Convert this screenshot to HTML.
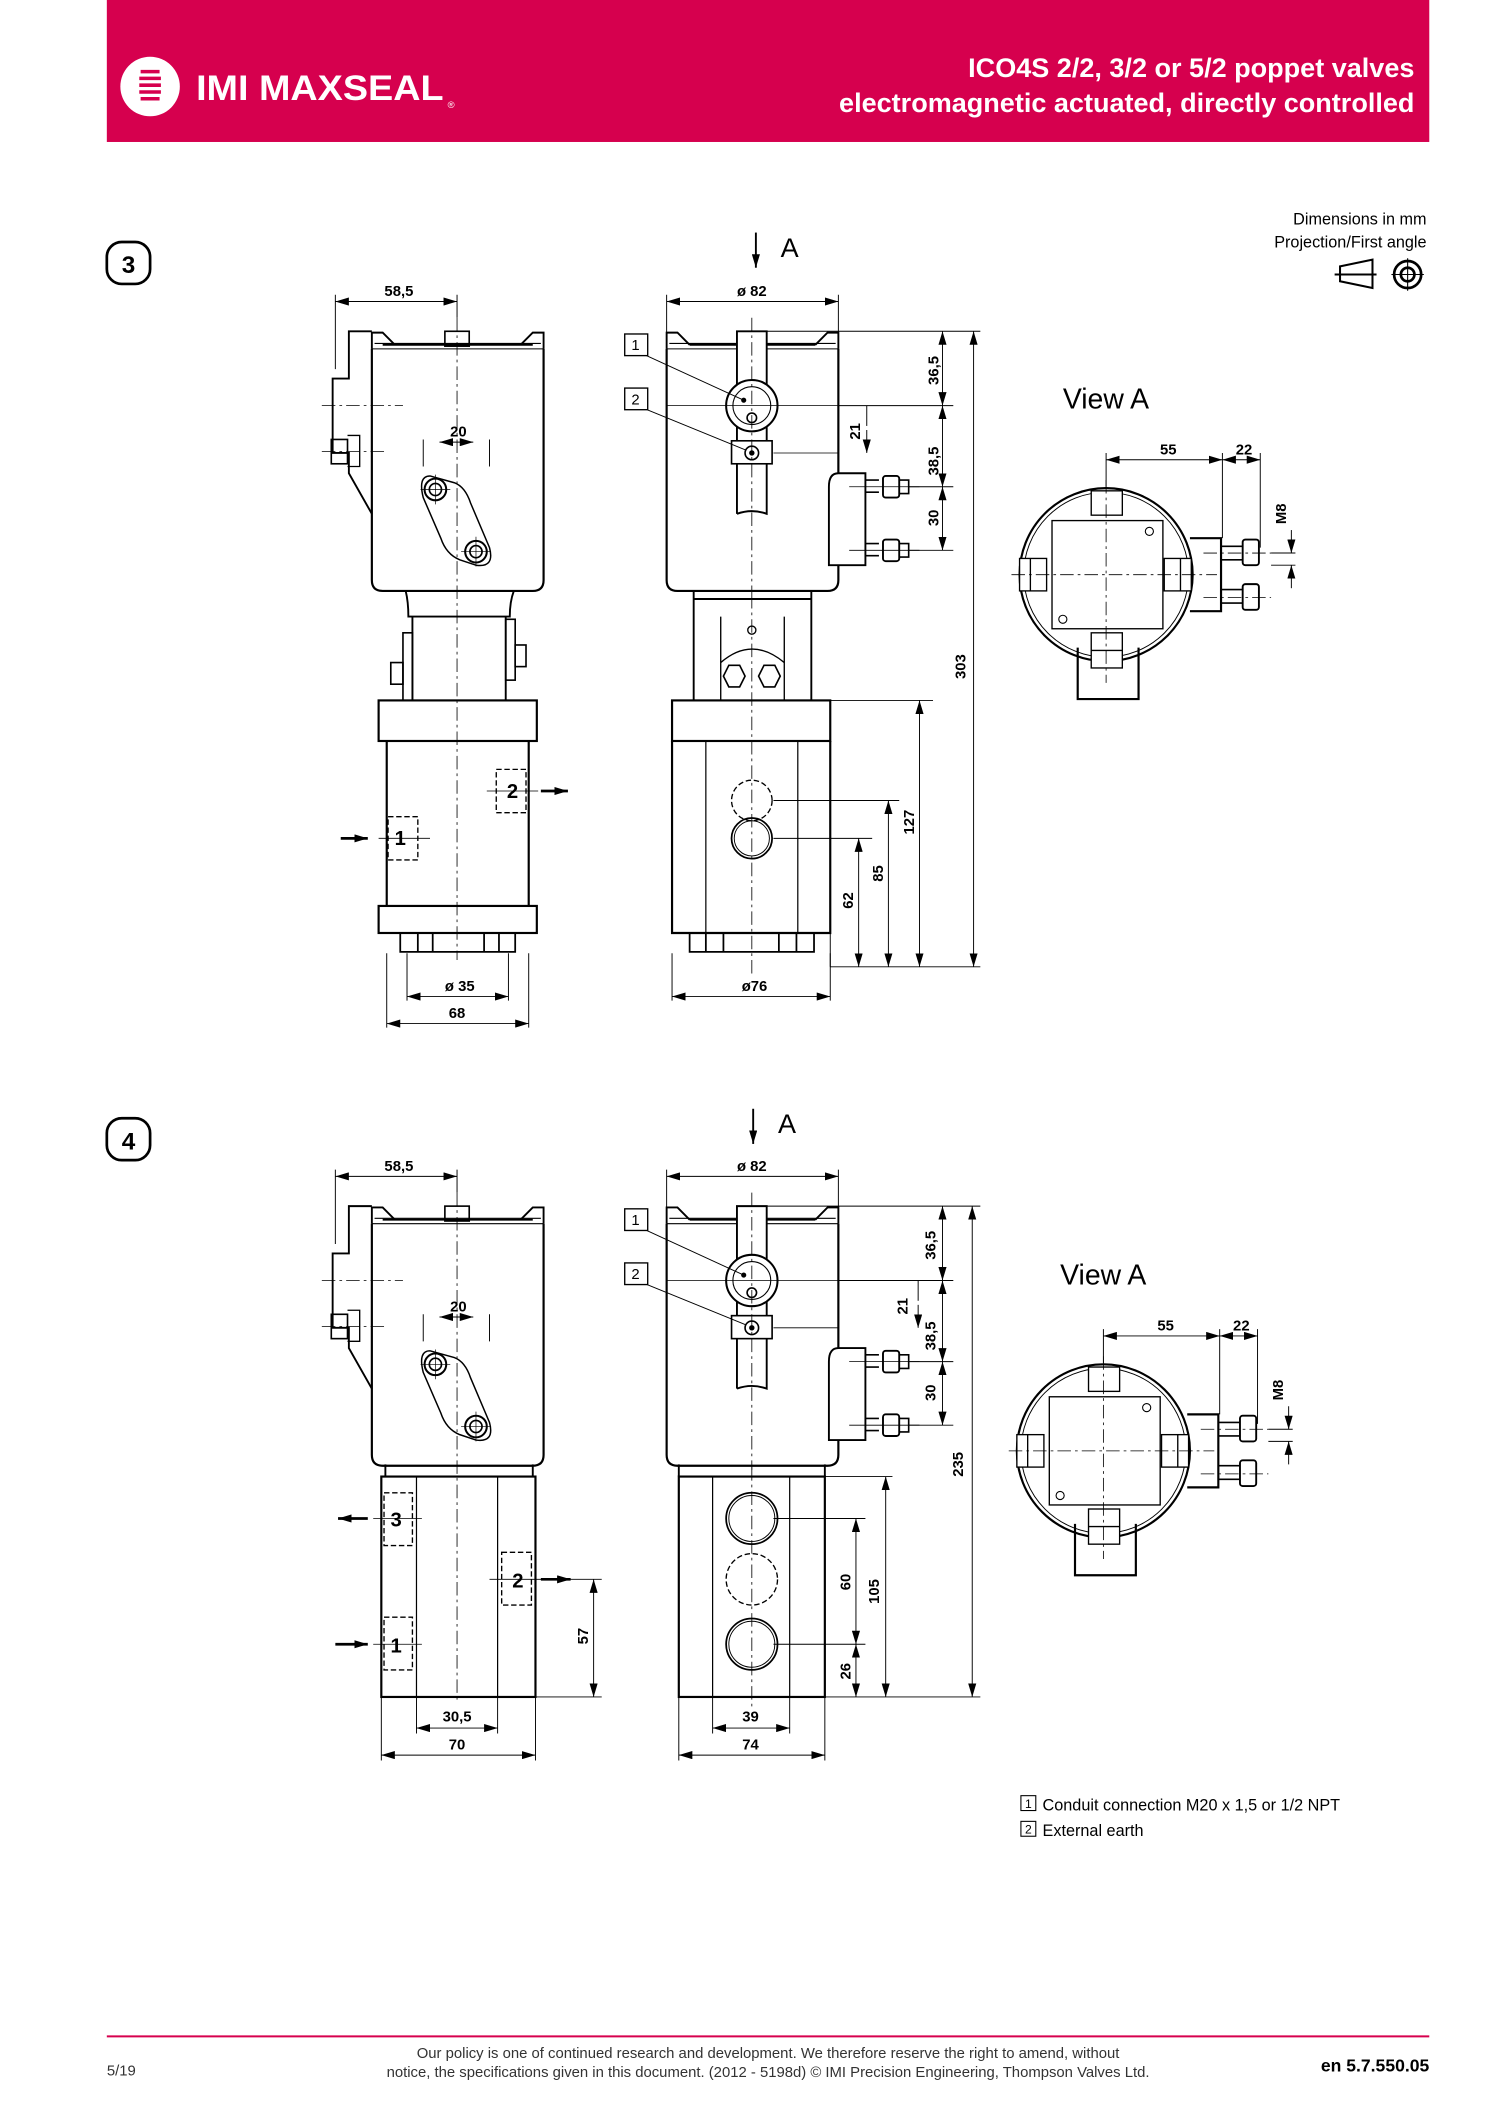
<!DOCTYPE html>
<html><head><meta charset="utf-8"><style>
html,body{margin:0;padding:0;background:#fff}
svg{display:block}
text{font-family:"Liberation Sans",Arial,sans-serif}
.d{font-size:11px;font-weight:bold;fill:#000}
</style></head><body>
<svg width="1500" height="2121" viewBox="0 0 1109.3 1568.6" preserveAspectRatio="none" xmlns="http://www.w3.org/2000/svg">
<defs>
<marker id="a" viewBox="0 0 10 6" refX="10" refY="3" markerWidth="10" markerHeight="6" orient="auto-start-reverse" markerUnits="userSpaceOnUse"><path d="M0,0 L10,3 L0,6 z" fill="#000"/></marker>
<g id="headL" fill="none" stroke="#000">
  <path d="M275,258 V429 Q275,437 283,437 H394 Q402,437 402,429 V258" stroke-width="1.6"/>
  <path d="M275,258 H402 M277,254 H400" stroke-width="0.8"/>
  <path d="M275,258 V246 L283,246 L292,255 M402,258 V246 L394,246 L385,255 M283,255 H394" stroke-width="1.4"/>
  <rect x="329" y="245" width="18" height="11" stroke-width="1.2"/>
  <path d="M275,245 H258 V280 H246 V335 H258 V350 L275,380" stroke-width="1.4"/>
  <rect x="245" y="325" width="12" height="18" stroke-width="1.2"/>
  <path d="M257,322 H266 V345 H257" stroke-width="1"/>
  <path d="M238,300 H298 M238,334 H285" stroke-width="0.6" stroke-dasharray="10 3 2 3"/>
  <path d="M318,352 L336,357 Q344,360 348,372 L362,405 Q366,420 352,418 L340,414 Q330,410 326,398 L313,368 Q309,352 318,352 z" stroke-width="1.1"/>
  <circle cx="322" cy="362" r="8" stroke-width="1.5"/><circle cx="322" cy="362" r="4.5" stroke-width="1.2"/>
  <circle cx="352" cy="408" r="8" stroke-width="1.5"/><circle cx="352" cy="408" r="4.5" stroke-width="1.2"/>
  <path d="M311,362 H333 M322,351 V373 M341,408 H363 M352,397 V419" stroke-width="0.5"/>
</g>
<g id="headM" fill="none" stroke="#000">
  <path d="M493,258 V429 Q493,437 501,437 H612 Q620,437 620,429 V258" stroke-width="1.6"/>
  <path d="M493,258 H620 M495,254 H618" stroke-width="0.8"/>
  <path d="M493,258 V246 L501,246 L510,255 M620,258 V246 L612,246 L603,255 M510,255 H603" stroke-width="1.4"/>
  <path d="M545,380 V245 H567 V380 Q556,376 545,380" stroke-width="1.4" fill="#fff"/>
  <circle cx="556" cy="300" r="19" stroke-width="1.5" fill="#fff"/><circle cx="556" cy="300" r="14" stroke-width="0.8"/>
  <circle cx="556" cy="309" r="3.5" stroke-width="1.2"/>
  <rect x="541" y="326" width="30" height="17" stroke-width="1.2" fill="#fff"/>
  <circle cx="556" cy="335" r="5" stroke-width="1.2"/><circle cx="556" cy="335" r="1.5" fill="#000"/>
  <path d="M613,418 V360 Q613,350 620,350 H640 V418 Z" stroke-width="1.4" fill="#fff"/>
  <path d="M640,355 H650 M640,364 H650 M640,402 H650 M640,411 H650" stroke-width="1.2"/>
  <rect x="653" y="352" width="12" height="16" rx="2" stroke-width="1.4"/>
  <rect x="653" y="399" width="12" height="16" rx="2" stroke-width="1.4"/>
  <path d="M665,355 H672 V365 H665 M665,402 H672 V412 H665" stroke-width="1.2"/>
  <path d="M493,300 H620 M572,335 H620 M628,360 H680 M628,407 H680" stroke-width="0.6"/>
  <path d="M556,235 V440" stroke-width="0.6" stroke-dasharray="10 3 2 3"/>
  <line x1="476" y1="262" x2="550" y2="296" stroke-width="0.7"/>
  <line x1="476" y1="302" x2="552" y2="333" stroke-width="0.7"/>
  <circle cx="550" cy="296" r="1.4" fill="#000"/>
</g>
<g id="viewA" fill="none" stroke="#000">
  <circle cx="818" cy="425" r="64" stroke-width="1.6"/><circle cx="818" cy="425" r="61" stroke-width="0.7"/>
  <rect x="778" y="385" width="82" height="80" stroke-width="1"/>
  <rect x="807" y="363" width="23" height="18" stroke-width="1" fill="#fff"/>
  <rect x="754" y="413" width="20" height="24" stroke-width="1" fill="#fff"/><line x1="762" y1="413" x2="762" y2="437" stroke-width="1"/>
  <rect x="861" y="413" width="20" height="24" stroke-width="1" fill="#fff"/><line x1="873" y1="413" x2="873" y2="437" stroke-width="1"/>
  <path d="M797,479 V517 H842 V479" stroke-width="1.6"/>
  <rect x="807" y="468" width="23" height="26" stroke-width="1" fill="#fff"/><line x1="807" y1="481" x2="830" y2="481"/>
  <path d="M880,398 H903 V452 H880" stroke-width="1.6"/>
  <path d="M903,404 H919 M903,414 H919 M903,436 H919 M903,446 H919" stroke-width="1.2"/>
  <rect x="919" y="399" width="12" height="19" rx="2" stroke-width="1.4"/>
  <rect x="919" y="432" width="12" height="19" rx="2" stroke-width="1.4"/>
  <circle cx="850" cy="393" r="3" stroke-width="0.8"/><circle cx="786" cy="458" r="3" stroke-width="0.8"/>
  <path d="M818,355 V505 M748,425 H900 M890,409 H940 M890,442 H940" stroke-width="0.6" stroke-dasharray="10 3 2 3"/>
</g>
</defs>

<!-- header -->
<rect x="79" y="0" width="978" height="105" fill="#d6004e"/>
<circle cx="111" cy="64" r="22" fill="#fff"/>
<path d="M104,53 H118 M103,58 H119 M103,63 H119 M103,68 H119 M104,73 H118" stroke="#d6004e" stroke-width="2.6"/>
<text x="145" y="74" font-size="26" font-weight="bold" fill="#fff" textLength="183" lengthAdjust="spacingAndGlyphs">IMI MAXSEAL</text>
<text x="331" y="80" font-size="7" fill="#fff">®</text>
<text x="1046" y="57" font-size="20" font-weight="bold" fill="#fff" text-anchor="end">ICO4S 2/2, 3/2 or 5/2 poppet valves</text>
<text x="1046" y="83" font-size="20" font-weight="bold" fill="#fff" text-anchor="end">electromagnetic actuated, directly controlled</text>

<text x="1055" y="166" font-size="12" text-anchor="end">Dimensions in mm</text>
<text x="1055" y="183" font-size="12" text-anchor="end">Projection/First angle</text>
<path d="M991,197 L1015,192 V213 L991,208 Z M987,203 H1018" fill="none" stroke="#000" stroke-width="1.5"/>
<circle cx="1041" cy="203" r="10" fill="none" stroke="#000" stroke-width="2"/><circle cx="1041" cy="203" r="5" fill="none" stroke="#000" stroke-width="2"/>
<path d="M1029,203 H1053 M1041,191 V215" stroke="#000" stroke-width="0.8"/>

<rect x="79" y="179" width="32" height="31" rx="11" fill="none" stroke="#000" stroke-width="2"/>
<text x="95" y="202" font-size="18" font-weight="bold" text-anchor="middle">3</text>
<rect x="79" y="827" width="32" height="31" rx="11" fill="none" stroke="#000" stroke-width="2"/>
<text x="95" y="850" font-size="18" font-weight="bold" text-anchor="middle">4</text>

<!-- ============ DRAWING 3 ============ -->
<use href="#headL"/>
<g fill="none" stroke="#000">
  <path d="M300,437 Q302,445 302,456 H377 Q377,445 380,437" stroke-width="1.4"/>
  <path d="M305,456 V518 M374,456 V518" stroke-width="1.4"/>
  <rect x="298" y="468" width="7" height="50" stroke-width="1.2"/><rect x="374" y="458" width="7" height="45" stroke-width="1.2"/>
  <rect x="289" y="490" width="9" height="16" stroke-width="1.2"/><rect x="381" y="477" width="8" height="16" stroke-width="1.2"/>
  <rect x="280" y="518" width="117" height="30" stroke-width="1.6"/>
  <path d="M286,548 V670 M391,548 V670" stroke-width="1.6"/>
  <rect x="280" y="670" width="117" height="20" stroke-width="1.6"/>
  <path d="M296,690 V704 H381 V690 M309,690 V704 M320,690 V704 M358,690 V704 M369,690 V704" stroke-width="1.3"/>
  <rect x="287" y="604" width="22" height="32" stroke-width="1" stroke-dasharray="4 2"/>
  <rect x="367" y="569" width="22" height="32" stroke-width="1" stroke-dasharray="4 2"/>
  <path d="M338,235 V710" stroke-width="0.6" stroke-dasharray="10 3 2 3"/>
  <path d="M280,620 H318 M360,585 H398" stroke-width="0.6"/>
  <line x1="252" y1="620" x2="272" y2="620" stroke-width="2" marker-end="url(#a)"/>
  <line x1="400" y1="585" x2="420" y2="585" stroke-width="2" marker-end="url(#a)"/>
  <path d="M248,273 V218 M338,218 V235 M313,345 V325 M362,345 V325 M286,705 V760 M391,705 V760 M301,705 V740 M376,705 V740" stroke-width="0.7"/>
  <line x1="248" y1="223" x2="338" y2="223" stroke-width="0.7" marker-start="url(#a)" marker-end="url(#a)"/>
  <line x1="325" y1="327" x2="338" y2="327" stroke-width="0.7" marker-start="url(#a)"/>
  <line x1="338" y1="327" x2="350" y2="327" stroke-width="0.7" marker-end="url(#a)"/>
  <line x1="301" y1="737" x2="376" y2="737" stroke-width="0.7" marker-start="url(#a)" marker-end="url(#a)"/>
  <line x1="286" y1="757" x2="391" y2="757" stroke-width="0.7" marker-start="url(#a)" marker-end="url(#a)"/>
</g>
<text x="295" y="219" class="d" text-anchor="middle">58,5</text>
<text x="339" y="323" class="d" text-anchor="middle">20</text>
<text x="296" y="625" font-size="15" font-weight="bold" text-anchor="middle">1</text>
<text x="379" y="590" font-size="15" font-weight="bold" text-anchor="middle">2</text>
<text x="340" y="733" class="d" text-anchor="middle">ø 35</text>
<text x="338" y="753" class="d" text-anchor="middle">68</text>

<use href="#headM"/>
<g fill="none" stroke="#000">
  <rect x="462" y="247" width="17" height="16" fill="#fff" stroke-width="1"/>
  <rect x="462" y="287" width="17" height="16" fill="#fff" stroke-width="1"/>
  <path d="M513,437 V518 M600,437 V518 M513,443 H600" stroke-width="1.4"/>
  <path d="M533,456 V518 M580,456 V518" stroke-width="1"/>
  <path d="M533,490 Q556,470 580,490" stroke-width="1"/>
  <path d="M535,500 l4,-8 h8 l4,8 l-4,8 h-8 z M561,500 l4,-8 h8 l4,8 l-4,8 h-8 z" stroke-width="1.2"/>
  <circle cx="556" cy="466" r="3" stroke-width="1"/>
  <rect x="497" y="518" width="117" height="30" stroke-width="1.6"/>
  <path d="M497,548 V690 H614 V548" stroke-width="1.6"/>
  <path d="M522,548 V690 M590,548 V690" stroke-width="0.9"/>
  <path d="M510,690 V704 H602 V690 M522,690 V704 M535,690 V704 M576,690 V704 M589,690 V704" stroke-width="1.3"/>
  <circle cx="556" cy="620" r="15" stroke-width="1.3"/><circle cx="556" cy="620" r="13" stroke-width="0.7"/>
  <circle cx="556" cy="592" r="15" stroke-width="1" stroke-dasharray="4 2"/>
  <path d="M556,440 V720" stroke-width="0.6" stroke-dasharray="10 3 2 3"/>
  <path d="M493,250 V218 M620,250 V218 M497,705 V740 M614,705 V740" stroke-width="0.7"/>
  <line x1="493" y1="223" x2="620" y2="223" stroke-width="0.7" marker-start="url(#a)" marker-end="url(#a)"/>
  <line x1="497" y1="737" x2="614" y2="737" stroke-width="0.7" marker-start="url(#a)" marker-end="url(#a)"/>
  <path d="M567,245 H725 M614,518 H690 M572,592 H665 M572,620 H645 M614,715 H725 M614,690 V715" stroke-width="0.7"/>
  <line x1="720" y1="245" x2="720" y2="715" stroke-width="0.7" marker-start="url(#a)" marker-end="url(#a)"/>
  <line x1="680" y1="518" x2="680" y2="715" stroke-width="0.7" marker-start="url(#a)" marker-end="url(#a)"/>
  <line x1="657" y1="592" x2="657" y2="715" stroke-width="0.7" marker-start="url(#a)" marker-end="url(#a)"/>
  <line x1="635" y1="620" x2="635" y2="715" stroke-width="0.7" marker-start="url(#a)" marker-end="url(#a)"/>
  <line x1="697" y1="245" x2="697" y2="300" stroke-width="0.7" marker-start="url(#a)" marker-end="url(#a)"/>
  <line x1="697" y1="300" x2="697" y2="360" stroke-width="0.7" marker-start="url(#a)" marker-end="url(#a)"/>
  <line x1="697" y1="360" x2="697" y2="407" stroke-width="0.7" marker-start="url(#a)" marker-end="url(#a)"/>
  <path d="M620,300 H705 M672,360 H705 M672,407 H705" stroke-width="0.7"/>
  <line x1="641" y1="318" x2="641" y2="335" stroke-width="0.7" marker-end="url(#a)"/>
  <path d="M641,300 V315" stroke-width="0.7"/>
  <path d="M559,172 V198" stroke-width="1.4" marker-end="url(#a)"/>
</g>
<text x="470" y="259" font-size="11" text-anchor="middle">1</text>
<text x="470" y="299" font-size="11" text-anchor="middle">2</text>
<text x="556" y="219" class="d" text-anchor="middle">ø 82</text>
<text x="558" y="733" class="d" text-anchor="middle">ø76</text>
<text x="584" y="190" font-size="20" text-anchor="middle">A</text>
<g class="d">
<text transform="translate(694,274) rotate(-90)" text-anchor="middle">36,5</text>
<text transform="translate(694,341) rotate(-90)" text-anchor="middle">38,5</text>
<text transform="translate(694,383) rotate(-90)" text-anchor="middle">30</text>
<text transform="translate(636,319) rotate(-90)" text-anchor="middle">21</text>
<text transform="translate(714,493) rotate(-90)" text-anchor="middle">303</text>
<text transform="translate(676,608) rotate(-90)" text-anchor="middle">127</text>
<text transform="translate(653,646) rotate(-90)" text-anchor="middle">85</text>
<text transform="translate(631,666) rotate(-90)" text-anchor="middle">62</text>
</g>

<use href="#viewA"/>
<g fill="none" stroke="#000" stroke-width="0.7">
  <path d="M818,335 V360 M904,335 V398 M932,335 V405 M940,409 H958 M940,418 H958"/>
  <line x1="818" y1="340" x2="904" y2="340" marker-start="url(#a)" marker-end="url(#a)"/>
  <line x1="904" y1="340" x2="932" y2="340" marker-start="url(#a)" marker-end="url(#a)"/>
  <line x1="955" y1="392" x2="955" y2="409" marker-end="url(#a)"/>
  <line x1="955" y1="435" x2="955" y2="418" marker-end="url(#a)"/>
</g>
<text x="786" y="302" font-size="21">View  A</text>
<text x="864" y="336" class="d" text-anchor="middle">55</text>
<text x="920" y="336" class="d" text-anchor="middle">22</text>
<text transform="translate(951,380) rotate(-90)" class="d" text-anchor="middle">M8</text>

<!-- ============ DRAWING 4 ============ -->
<use href="#headL" transform="translate(0,647)"/>
<g fill="none" stroke="#000">
  <path d="M285,1083 V1092 M394,1083 V1092" stroke-width="1.4"/>
  <rect x="282" y="1092" width="114" height="163" stroke-width="1.6"/>
  <path d="M308,1092 V1255 M368,1092 V1255" stroke-width="0.9"/>
  <rect x="284" y="1104" width="21" height="39" stroke-width="1" stroke-dasharray="4 2"/>
  <rect x="284" y="1196" width="21" height="39" stroke-width="1" stroke-dasharray="4 2"/>
  <rect x="371" y="1148" width="22" height="39" stroke-width="1" stroke-dasharray="4 2"/>
  <path d="M338,882 V1260" stroke-width="0.6" stroke-dasharray="10 3 2 3"/>
  <path d="M276,1123 H312 M276,1216 H312 M362,1168 H402 M412,1168 H445 M396,1255 H445" stroke-width="0.6"/>
  <line x1="272" y1="1123" x2="250" y2="1123" stroke-width="2" marker-end="url(#a)"/>
  <line x1="248" y1="1216" x2="272" y2="1216" stroke-width="2" marker-end="url(#a)"/>
  <line x1="400" y1="1168" x2="422" y2="1168" stroke-width="2" marker-end="url(#a)"/>
  <line x1="439" y1="1168" x2="439" y2="1255" stroke-width="0.7" marker-start="url(#a)" marker-end="url(#a)"/>
  <path d="M248,920 V865 M338,865 V882 M313,992 V972 M362,992 V972 M282,1255 V1302 M396,1255 V1302 M308,1255 V1282 M368,1255 V1282" stroke-width="0.7"/>
  <line x1="248" y1="870" x2="338" y2="870" stroke-width="0.7" marker-start="url(#a)" marker-end="url(#a)"/>
  <line x1="325" y1="974" x2="338" y2="974" stroke-width="0.7" marker-start="url(#a)"/>
  <line x1="338" y1="974" x2="350" y2="974" stroke-width="0.7" marker-end="url(#a)"/>
  <line x1="308" y1="1278" x2="368" y2="1278" stroke-width="0.7" marker-start="url(#a)" marker-end="url(#a)"/>
  <line x1="282" y1="1298" x2="396" y2="1298" stroke-width="0.7" marker-start="url(#a)" marker-end="url(#a)"/>
</g>
<text x="295" y="866" class="d" text-anchor="middle">58,5</text>
<text x="339" y="970" class="d" text-anchor="middle">20</text>
<text x="293" y="1129" font-size="15" font-weight="bold" text-anchor="middle">3</text>
<text x="293" y="1222" font-size="15" font-weight="bold" text-anchor="middle">1</text>
<text x="383" y="1174" font-size="15" font-weight="bold" text-anchor="middle">2</text>
<text x="338" y="1273" class="d" text-anchor="middle">30,5</text>
<text x="338" y="1294" class="d" text-anchor="middle">70</text>
<text transform="translate(435,1210) rotate(-90)" class="d" text-anchor="middle">57</text>

<use href="#headM" transform="translate(0,647)"/>
<g fill="none" stroke="#000">
  <rect x="462" y="894" width="17" height="16" fill="#fff" stroke-width="1"/>
  <rect x="462" y="934" width="17" height="16" fill="#fff" stroke-width="1"/>
  <path d="M502,1083 V1092 M610,1083 V1092" stroke-width="1.4"/>
  <rect x="502" y="1092" width="108" height="163" stroke-width="1.6"/>
  <path d="M527,1092 V1255 M584,1092 V1255" stroke-width="0.9"/>
  <circle cx="556" cy="1123" r="19" stroke-width="1.3"/><circle cx="556" cy="1123" r="17" stroke-width="0.7"/>
  <circle cx="556" cy="1216" r="19" stroke-width="1.3"/><circle cx="556" cy="1216" r="17" stroke-width="0.7"/>
  <circle cx="556" cy="1168" r="19" stroke-width="1" stroke-dasharray="4 2"/>
  <path d="M556,1085 V1265" stroke-width="0.6" stroke-dasharray="10 3 2 3"/>
  <path d="M493,897 V865 M620,897 V865 M527,1255 V1282 M584,1255 V1282 M502,1255 V1302 M610,1255 V1302" stroke-width="0.7"/>
  <line x1="493" y1="870" x2="620" y2="870" stroke-width="0.7" marker-start="url(#a)" marker-end="url(#a)"/>
  <line x1="527" y1="1278" x2="584" y2="1278" stroke-width="0.7" marker-start="url(#a)" marker-end="url(#a)"/>
  <line x1="502" y1="1298" x2="610" y2="1298" stroke-width="0.7" marker-start="url(#a)" marker-end="url(#a)"/>
  <path d="M567,892 H725 M610,1092 H660 M572,1123 H640 M572,1216 H640 M610,1255 H725" stroke-width="0.7"/>
  <line x1="719" y1="892" x2="719" y2="1255" stroke-width="0.7" marker-start="url(#a)" marker-end="url(#a)"/>
  <line x1="655" y1="1092" x2="655" y2="1255" stroke-width="0.7" marker-start="url(#a)" marker-end="url(#a)"/>
  <line x1="633" y1="1123" x2="633" y2="1216" stroke-width="0.7" marker-start="url(#a)" marker-end="url(#a)"/>
  <line x1="633" y1="1216" x2="633" y2="1255" stroke-width="0.7" marker-start="url(#a)" marker-end="url(#a)"/>
  <line x1="697" y1="892" x2="697" y2="947" stroke-width="0.7" marker-start="url(#a)" marker-end="url(#a)"/>
  <line x1="697" y1="947" x2="697" y2="1007" stroke-width="0.7" marker-start="url(#a)" marker-end="url(#a)"/>
  <line x1="697" y1="1007" x2="697" y2="1054" stroke-width="0.7" marker-start="url(#a)" marker-end="url(#a)"/>
  <path d="M620,947 H705 M672,1007 H705 M672,1054 H705" stroke-width="0.7"/>
  <line x1="679" y1="965" x2="679" y2="982" stroke-width="0.7" marker-end="url(#a)"/>
  <path d="M679,947 V962" stroke-width="0.7"/>
  <path d="M557,820 V846" stroke-width="1.4" marker-end="url(#a)"/>
</g>
<text x="470" y="906" font-size="11" text-anchor="middle">1</text>
<text x="470" y="946" font-size="11" text-anchor="middle">2</text>
<text x="556" y="866" class="d" text-anchor="middle">ø 82</text>
<text x="555" y="1273" class="d" text-anchor="middle">39</text>
<text x="555" y="1294" class="d" text-anchor="middle">74</text>
<text x="582" y="838" font-size="20" text-anchor="middle">A</text>
<g class="d">
<text transform="translate(692,921) rotate(-90)" text-anchor="middle">36,5</text>
<text transform="translate(692,988) rotate(-90)" text-anchor="middle">38,5</text>
<text transform="translate(692,1030) rotate(-90)" text-anchor="middle">30</text>
<text transform="translate(671,966) rotate(-90)" text-anchor="middle">21</text>
<text transform="translate(712,1083) rotate(-90)" text-anchor="middle">235</text>
<text transform="translate(650,1177) rotate(-90)" text-anchor="middle">105</text>
<text transform="translate(629,1170) rotate(-90)" text-anchor="middle">60</text>
<text transform="translate(629,1236) rotate(-90)" text-anchor="middle">26</text>
</g>

<use href="#viewA" transform="translate(-2,648)"/>
<g fill="none" stroke="#000" stroke-width="0.7" transform="translate(-2,648)">
  <path d="M818,335 V360 M904,335 V398 M932,335 V405 M940,409 H958 M940,418 H958"/>
  <line x1="818" y1="340" x2="904" y2="340" marker-start="url(#a)" marker-end="url(#a)"/>
  <line x1="904" y1="340" x2="932" y2="340" marker-start="url(#a)" marker-end="url(#a)"/>
  <line x1="955" y1="392" x2="955" y2="409" marker-end="url(#a)"/>
  <line x1="955" y1="435" x2="955" y2="418" marker-end="url(#a)"/>
</g>
<text x="784" y="950" font-size="21">View  A</text>
<text x="862" y="984" class="d" text-anchor="middle">55</text>
<text x="918" y="984" class="d" text-anchor="middle">22</text>
<text transform="translate(949,1028) rotate(-90)" class="d" text-anchor="middle">M8</text>

<rect x="755" y="1328" width="11" height="11" fill="none" stroke="#000" stroke-width="0.8"/>
<text x="760.5" y="1337" font-size="9" text-anchor="middle">1</text>
<text x="771" y="1339" font-size="12">Conduit connection M20 x 1,5 or 1/2 NPT</text>
<rect x="755" y="1347" width="11" height="11" fill="none" stroke="#000" stroke-width="0.8"/>
<text x="760.5" y="1356" font-size="9" text-anchor="middle">2</text>
<text x="771" y="1358" font-size="12">External earth</text>

<line x1="79" y1="1506" x2="1057" y2="1506" stroke="#d6004e" stroke-width="1.5"/>
<text x="79" y="1535" font-size="11" fill="#333">5/19</text>
<text x="568" y="1522" font-size="11" text-anchor="middle" fill="#333">Our policy is one of continued research and development. We therefore reserve the right to amend, without</text>
<text x="568" y="1536" font-size="11" text-anchor="middle" fill="#333">notice, the specifications given in this document. (2012 - 5198d) © IMI Precision Engineering, Thompson Valves Ltd.</text>
<text x="1057" y="1532" font-size="13" font-weight="bold" text-anchor="end">en 5.7.550.05</text>
</svg>
</body></html>
